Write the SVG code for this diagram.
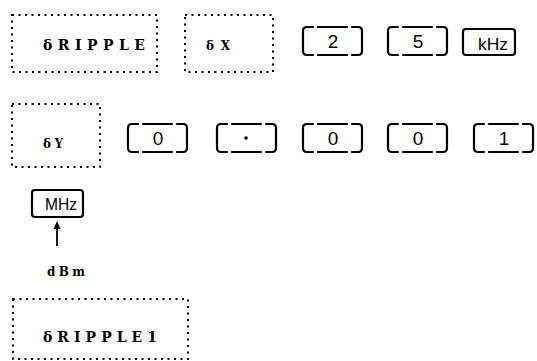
<svg xmlns="http://www.w3.org/2000/svg" width="537" height="361" viewBox="0 0 537 361">
<style>
.dot{fill:none;stroke:#000;stroke-width:2;stroke-dasharray:2 4.5}
.btn{fill:none;stroke:#000;stroke-width:2.2;stroke-linecap:round}
.lbl{font-family:"DejaVu Serif",serif;font-weight:bold;fill:#000}
.dig{font-family:"Liberation Sans",Arial,sans-serif;font-size:19px;fill:#000;text-anchor:middle}
.unit{font-family:"Liberation Sans",Arial,sans-serif;fill:#000}
</style>
<defs>
<path id="b" class="btn" d="M10,0 H4 Q0,0 0,4 V24 Q0,28 4,28 H10 M15,0 H44 M15,28 H44 M49,0 H55 Q59,0 59,4 V24 Q59,28 55,28 H49"/>
</defs>
<g id="ripple"><rect class="dot" x="12" y="15" width="145" height="57"/><text class="lbl" x="43" y="50" font-size="14" textLength="102" lengthAdjust="spacing">δRIPPLE</text></g>
<g id="dx"><rect class="dot" x="185" y="15" width="88" height="57"/><text class="lbl" x="206" y="50" font-size="12" textLength="24" lengthAdjust="spacing">δX</text></g>
<g id="k2"><use href="#b" x="303" y="27"/><text class="dig" x="333" y="48">2</text></g>
<g id="k5"><use href="#b" x="388" y="27"/><text class="dig" x="418" y="48">5</text></g>
<g id="khz"><rect class="btn" x="463" y="29" width="52" height="26" rx="3"/><text class="unit" x="478" y="50" font-size="16" textLength="30" lengthAdjust="spacingAndGlyphs">kHz</text></g>
<g id="dy"><rect class="dot" x="12" y="104" width="88" height="63"/><text class="lbl" x="43" y="148" font-size="12" textLength="20" lengthAdjust="spacing">δY</text></g>
<g id="k0a"><use href="#b" x="128" y="124"/><text class="dig" x="158" y="145">0</text></g>
<g id="kdot"><use href="#b" x="217" y="124"/><circle cx="246" cy="138" r="1.8" fill="#000"/></g>
<g id="k0b"><use href="#b" x="303" y="124"/><text class="dig" x="333" y="145">0</text></g>
<g id="k0c"><use href="#b" x="388" y="124"/><text class="dig" x="418" y="145">0</text></g>
<g id="k1"><use href="#b" x="474" y="124"/><text class="dig" x="504" y="145">1</text></g>
<g id="mhz"><rect class="btn" x="32" y="190" width="51" height="27" rx="3"/><text class="unit" x="45" y="210" font-size="17" textLength="32" lengthAdjust="spacingAndGlyphs">MHz</text></g>
<g id="connectors"><path d="M57,246 V227" stroke="#000" stroke-width="1.8" fill="none"/><path d="M57,221 L53.5,229 H60.5 Z" fill="#000"/></g>
<g id="dbm"><text class="lbl" x="47" y="276" font-size="12" textLength="38" lengthAdjust="spacing">dBm</text></g>
<g id="ripple1"><rect class="dot" x="13" y="299" width="175" height="60"/><text class="lbl" x="43" y="342" font-size="14" textLength="114" lengthAdjust="spacing">δRIPPLE1</text></g>
</svg>
